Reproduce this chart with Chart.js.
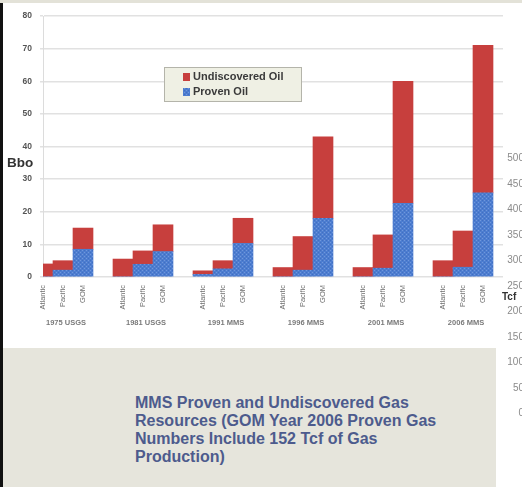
<!DOCTYPE html>
<html>
<head>
<meta charset="utf-8">
<script src="https://cdn.jsdelivr.net/npm/chart.js@4.4.1/dist/chart.umd.min.js"></script>
<style>
  html, body { margin: 0; padding: 0; background: #ffffff; }
  body { width: 522px; height: 487px; position: relative; overflow: hidden; font-family: "Liberation Sans", Arial, sans-serif; }
  #grafico { position: absolute; left: 0; top: 0; }
  .faixa-topo { position: absolute; left: 0; top: 0; width: 522px; height: 3px; background: #e3e2d8; }
  .borda-esq { position: absolute; left: 0; top: 3px; width: 3px; height: 484px; background: #111111; }
  .painel { position: absolute; left: 3px; top: 348px; width: 493px; height: 139px; background: #e6e5dc; }
  .legenda-texto {
    position: absolute; left: 135px; top: 394px; width: 340px;
    font-weight: bold; font-size: 16px; line-height: 18px; color: #4d5b8d;
  }
  .eixo-titulo { position: absolute; font-weight: bold; color: #333333; }
  .tcf-tick { position: absolute; right: -2px; font-size: 10px; color: #8a8a8a; text-align: right; }
</style>
</head>
<body>
<canvas id="grafico" width="522" height="487"></canvas>
<div class="faixa-topo"></div>
<div class="borda-esq"></div>
<div class="eixo-titulo" style="left:7px; top:155px; font-size:13.5px;">Bbo</div>
<div class="eixo-titulo" style="left:502px; top:291px; font-size:10px;">Tcf</div>
<div id="tcf"></div>
<div class="painel"></div>
<div class="legenda-texto">MMS Proven and Undiscovered Gas<br>Resources (GOM Year 2006 Proven Gas<br>Numbers Include 152 Tcf of Gas<br>Production)</div>

<script>
// Levantamentos e bacias
const levantamentos = ['1975 USGS', '1981 USGS', '1991 MMS', '1996 MMS', '2001 MMS', '2006 MMS'];
const bacias = ['Atlantic', 'Pacific', 'GOM'];

// Óleo provado (Bbo) por levantamento
const provadoAtlantic = [0, 0, 0.8, 0, 0, 0];
const provadoPacific = [2.1, 3.9, 2.5, 2.1, 2.7, 3.0];
const provadoGOM = [8.5, 7.8, 10.3, 18, 22.6, 25.8];

// Óleo não descoberto (Bbo) por levantamento
const naoDescAtlantic = [4.0, 5.5, 1.1, 2.9, 2.9, 5.0];
const naoDescPacific = [2.9, 4.1, 2.5, 10.3, 10.2, 11.1];
const naoDescGOM = [6.5, 8.2, 7.7, 25, 37.4, 45.2];

// Eixo de gás (Tcf) do gráfico vizinho
const tcfTicks = [500, 450, 400, 350, 300, 250, 200, 150, 100, 50, 0];

// Monta categorias: 3 bacias + 1 espaço por levantamento
const rotulos = [];
const dadosProvado = [];
const dadosNaoDesc = [];
levantamentos.forEach((lev, i) => {
  const prov = [provadoAtlantic[i], provadoPacific[i], provadoGOM[i]];
  const nd = [naoDescAtlantic[i], naoDescPacific[i], naoDescGOM[i]];
  bacias.forEach((b, j) => {
    rotulos.push(b);
    dadosProvado.push(prov[j]);
    dadosNaoDesc.push(nd[j]);
  });
  rotulos.push('');
  dadosProvado.push(null);
  dadosNaoDesc.push(null);
});

// Padrão pontilhado do azul
function padraoAzul() {
  const c = document.createElement('canvas');
  c.width = 4; c.height = 4;
  const g = c.getContext('2d');
  g.fillStyle = '#4d7dd0';
  g.fillRect(0, 0, 4, 4);
  g.fillStyle = '#7097dc';
  g.fillRect(0, 0, 1, 1);
  g.fillRect(2, 2, 1, 1);
  g.fillStyle = '#416fc2';
  g.fillRect(2, 0, 1, 1);
  g.fillRect(0, 2, 1, 1);
  return g.createPattern(c, 'repeat');
}

const vermelho = '#c73f3d';
const azul = padraoAzul();

// Rótulos dos levantamentos abaixo dos nomes das bacias
const rotulosGrupo = {
  id: 'rotulosGrupo',
  afterDraw(chart) {
    const ctx = chart.ctx;
    const x = chart.scales.x;
    ctx.save();
    ctx.font = 'bold 7.5px "Liberation Sans", Arial, sans-serif';
    ctx.fillStyle = '#7a7a7a';
    ctx.textAlign = 'center';
    ctx.textBaseline = 'middle';
    levantamentos.forEach((lev, i) => {
      ctx.fillText(lev, x.getPixelForValue(i * 4 + 1) + 3, 323);
    });
    ctx.restore();
  }
};

// Caixa de legenda dentro da área do gráfico
const caixaLegenda = {
  id: 'caixaLegenda',
  afterDraw(chart) {
    const ctx = chart.ctx;
    ctx.save();
    ctx.fillStyle = '#eff0e4';
    ctx.strokeStyle = '#b4b4aa';
    ctx.lineWidth = 1;
    ctx.fillRect(164, 67, 138, 35);
    ctx.strokeRect(164.5, 67.5, 137, 34);
    const itens = chart.data.datasets.slice().reverse();
    ctx.font = 'bold 11px "Liberation Sans", Arial, sans-serif';
    ctx.textBaseline = 'middle';
    itens.forEach((ds, i) => {
      const y = 77 + i * 15;
      ctx.fillStyle = ds.backgroundColor;
      ctx.fillRect(183, y - 4, 7, 8);
      ctx.fillStyle = '#3a3a3a';
      ctx.fillText(ds.label, 193, y);
    });
    ctx.restore();
  }
};

const ctx = document.getElementById('grafico').getContext('2d');
new Chart(ctx, {
  type: 'bar',
  data: {
    labels: rotulos,
    datasets: [
      {
        label: 'Proven Oil',
        data: dadosProvado,
        backgroundColor: azul,
        borderWidth: 0,
        clip: 0
      },
      {
        label: 'Undiscovered Oil',
        data: dadosNaoDesc,
        backgroundColor: vermelho,
        borderWidth: 0,
        clip: 0
      }
    ]
  },
  options: {
    responsive: false,
    animation: false,
    devicePixelRatio: 1,
    layout: { padding: { left: 13, top: 16, right: 19, bottom: 150 } },
    datasets: { bar: { categoryPercentage: 1, barPercentage: 1 } },
    scales: {
      x: {
        stacked: true,
        offset: false,
        grid: { display: false, drawTicks: false },
        border: { display: false },
        ticks: {
          autoSkip: false,
          minRotation: 90,
          maxRotation: 90,
          padding: 8,
          color: '#6e6e6e',
          font: { size: 7.5, family: '"Liberation Sans", Arial, sans-serif' }
        },
        afterFit: (scale) => { scale.height = 60; }
      },
      y: {
        stacked: true,
        min: 0,
        max: 80,
        grid: { color: '#e1e1e1', lineWidth: 1.5, tickLength: 3 },
        border: { color: '#dcdcdc' },
        ticks: {
          stepSize: 10,
          padding: 8,
          color: '#555555',
          font: { size: 8.5, weight: 'bold', family: '"Liberation Sans", Arial, sans-serif' }
        },
        afterFit: (scale) => { scale.width = 30; }
      }
    },
    plugins: {
      legend: { display: false },
      tooltip: { enabled: false }
    }
  },
  plugins: [rotulosGrupo, caixaLegenda]
});

// Marcas do eixo Tcf, cortadas na borda direita
const tcf = document.getElementById('tcf');
tcfTicks.forEach((v, i) => {
  const d = document.createElement('div');
  d.className = 'tcf-tick';
  d.style.top = (152 + i * 25.5) + 'px';
  d.textContent = v;
  tcf.appendChild(d);
});
</script>
</body>
</html>
